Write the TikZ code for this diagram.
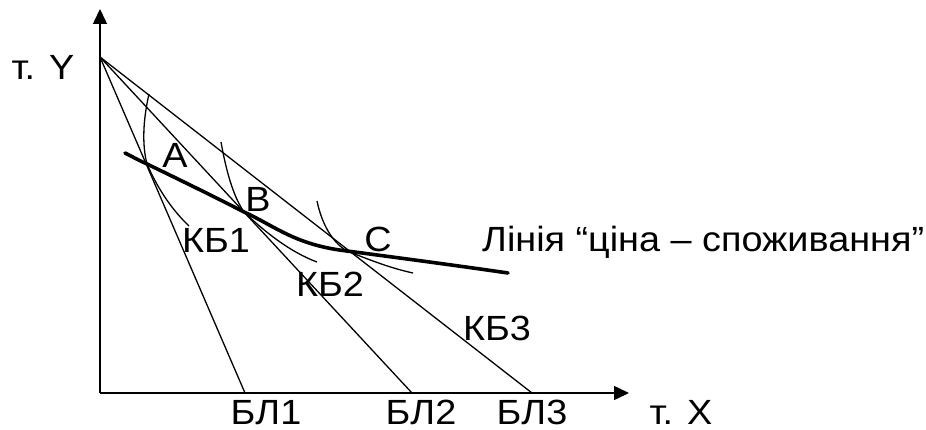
\documentclass[tikz,border=0pt]{standalone}
\usepackage{fontspec}
\setmainfont[FakeStretch=1.08]{Liberation Sans}
\usetikzlibrary{arrows.meta}
\begin{document}
\begin{tikzpicture}[x=1pt,y=-1pt,
  thinline/.style={line width=1.3pt},
  axisline/.style={line width=1.5pt,-{Triangle[length=15pt,width=14pt]}},
  thickline/.style={line width=3.6pt,line cap=round},
  lbl/.style={font=\fontsize{35}{38}\selectfont,inner sep=0pt,anchor=base}]
\useasboundingbox (0,0) rectangle (926,430);
% axes
\coordinate (O) at (100,393);
\coordinate (Ytop) at (100,9);
\coordinate (Xtop) at (629,393);
\draw[axisline] (O) -- (Ytop);
\draw[axisline] (O) -- (Xtop);
% budget lines
\coordinate (P) at (100,57);
\coordinate (B1) at (245,393);
\coordinate (B2) at (412,393);
\coordinate (B3) at (532,393);
\draw[thinline] (P) -- (B1);
\draw[thinline] (P) -- (B2);
\draw[thinline] (P) -- (B3);
% tangency points
\coordinate (A) at (147,164);
\coordinate (Bp) at (244,212);
\coordinate (Cp) at (347,251);
% indifference curves
\draw[thinline] (149,94) .. controls (143,120) and (142,145) .. (A)
  .. controls (156,185) and (170,208) .. (189,226);
\draw[thinline] (221,142) .. controls (226,170) and (233,196) .. (Bp)
  .. controls (265,232) and (290,252) .. (317,262);
\draw[thinline] (317,201) .. controls (322,225) and (333,243) .. (Cp)
  .. controls (370,260) and (390,268) .. (413,273);
% price-consumption line
\draw[thickline] (125,153) .. controls (133,157) and (140,161) .. (A)
  .. controls (180,180) and (215,197) .. (Bp)
  .. controls (275,226) and (295,245) .. (Cp)
  .. controls (400,258) and (460,266) .. (508,273);
% labels
\node[lbl] (lY) at (43,80) {т. Y};
\node[lbl] (lX) at (681,424) {т. X};
\node[lbl] (lA) at (175,168) {A};
\node[lbl] (lB) at (258,212) {B};
\node[lbl] (lC) at (378,252) {C};
\node[lbl] (k1) at (216,253) {КБ1};
\node[lbl] (k2) at (330,297) {КБ2};
\node[lbl] (k3) at (497,340) {КБ3};
\node[lbl] (b1) at (266,424) {БЛ1};
\node[lbl] (b2) at (421,424) {БЛ2};
\node[lbl] (b3) at (532,424) {БЛ3};
\node[lbl,anchor=base west] (pc) at (482,252) {Лінія “ціна – споживання”};
\end{tikzpicture}
\end{document}
